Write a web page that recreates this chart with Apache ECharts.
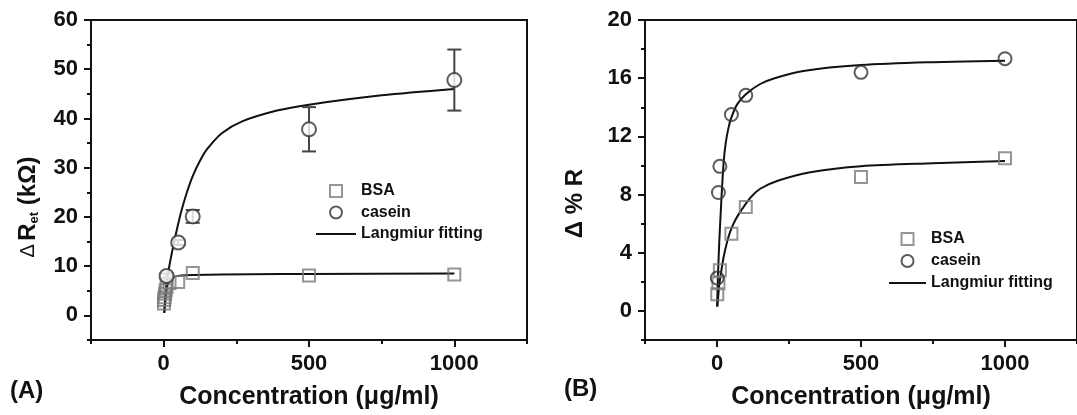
<!DOCTYPE html>
<html>
<head>
<meta charset="utf-8">
<script src="https://cdn.jsdelivr.net/npm/echarts@6/dist/echarts.min.js"></script>
<style>
  html, body { margin: 0; padding: 0; background: #fff; }
  #chart { width: 1077px; height: 415px; }
</style>
</head>
<body>
<div id="chart"></div>
<script>
// ---- panel A : delta R_et (kOhm) ----
var bsaConcA = [1, 2, 3, 5, 7, 10, 20, 50, 100, 500, 1000];
var bsaValA = [2.4, 3.1, 3.7, 4.4, 5.1, 5.8, 6.6, 6.8, 8.6, 8.1, 8.3];
var caseinConcA = [10, 50, 100, 500, 1000];
var caseinValA = [8.0, 14.8, 20.1, 37.8, 47.8];
var caseinLowA = [7.5, 14.3, 18.8, 33.3, 41.6];
var caseinHighA = [8.5, 15.3, 21.4, 42.3, 54.0];
// fitted curves
var fitBsaConcA = [2, 5, 8, 13, 20, 35, 60, 100, 300, 500, 1000];
var fitBsaValA = [0.5, 2.5, 4.3, 6.1, 7.1, 7.8, 8.1, 8.2, 8.35, 8.4, 8.5];
var fitCaseinConcA = [2, 5, 10, 20, 30, 40, 50, 60, 80, 100, 125, 150, 200, 270, 390, 500, 750, 1000];
var fitCaseinValA = [0.5, 3.3, 6.6, 10.2, 13.2, 16.0, 18.6, 21.0, 25.0, 28.3, 31.4, 33.8, 37.0, 39.4, 41.6, 42.8, 44.7, 46.0];

// ---- panel B : delta % R ----
var bsaConcB = [1, 5, 10, 50, 100, 500, 1000];
var bsaValB = [1.15, 1.9, 2.8, 5.3, 7.15, 9.2, 10.5];
var caseinConcB = [1, 5, 10, 50, 100, 500, 1000];
var caseinValB = [2.26, 8.14, 9.94, 13.5, 14.82, 16.4, 17.34];
var fitBsaConcB = [1, 3.4, 8, 17, 25, 40, 55, 74, 117, 150, 211, 329, 500, 750, 1000];
var fitBsaValB = [0.3, 0.8, 1.8, 3.0, 3.9, 5.1, 5.9, 6.6, 7.8, 8.4, 8.95, 9.55, 9.95, 10.15, 10.3];
var fitCaseinConcB = [0.5, 3, 8, 12, 17, 23, 30, 40, 50, 70, 100, 150, 200, 300, 500, 750, 1000];
var fitCaseinValB = [0.3, 2.2, 4.8, 6.4, 8.3, 10.2, 11.5, 12.6, 13.3, 14.2, 14.9, 15.6, 16.0, 16.5, 16.9, 17.1, 17.2];

// axis ticks
var xMajor = [0, 500, 1000];
var xMinor = [-250, 250, 750, 1250];
var yMajorA = [0, 10, 20, 30, 40, 50, 60];
var yMinorA = [-5, 5, 15, 25, 35, 45, 55];
var yMajorB = [0, 4, 8, 12, 16, 20];
var yMinorB = [-2, 2, 6, 10, 14, 18];

var legendNames = ['BSA', 'casein', 'Langmiur fitting'];

var FONT = '"Liberation Sans", Arial, sans-serif';
var INK = '#111';

function pairs(xs, ys) {
  return xs.map(function (x, i) { return [x, ys[i]]; });
}
function triples(xs, a, b) {
  return xs.map(function (x, i) { return [x, a[i], b[i]]; });
}

function mainAxis(grid, min, max, interval, majors, extra) {
  var ax = {
    type: 'value', gridIndex: grid, min: min, max: max, interval: interval,
    splitLine: { show: false },
    axisLine: { show: true, onZero: false, lineStyle: { color: INK, width: 2 } },
    axisTick: { show: true, inside: false, length: 7, customValues: majors, lineStyle: { color: INK, width: 2 } },
    axisLabel: {
      customValues: majors, margin: 13, color: INK, fontSize: 22, fontWeight: 'bold', fontFamily: FONT,
      formatter: function (v) { return String(v); }
    }
  };
  return Object.assign(ax, extra || {});
}
function minorAxis(grid, min, max, interval, minors, pos) {
  return {
    type: 'value', gridIndex: grid, min: min, max: max, interval: interval, position: pos,
    splitLine: { show: false },
    axisLine: { show: false, onZero: false },
    axisTick: { show: true, inside: false, length: 4, customValues: minors, lineStyle: { color: INK, width: 2 } },
    axisLabel: { show: false }
  };
}

function xName() {
  return {
    name: 'Concentration (μg/ml)', nameLocation: 'middle', nameGap: 45,
    nameTextStyle: { color: INK, fontSize: 25, fontWeight: 'bold', fontFamily: FONT }
  };
}

function renderErr(params, api) {
  var x = api.value(0);
  var lo = api.coord([x, api.value(1)]);
  var hi = api.coord([x, api.value(2)]);
  var w = 7;
  var st = { stroke: '#444', lineWidth: 2 };
  return {
    type: 'group',
    children: [
      { type: 'line', shape: { x1: lo[0], y1: lo[1], x2: hi[0], y2: hi[1] }, style: st },
      { type: 'line', shape: { x1: lo[0] - w, y1: lo[1], x2: lo[0] + w, y2: lo[1] }, style: st },
      { type: 'line', shape: { x1: hi[0] - w, y1: hi[1], x2: hi[0] + w, y2: hi[1] }, style: st }
    ]
  };
}

var squareStyle = { color: 'rgba(0,0,0,0)', borderColor: '#7a7a7a', borderWidth: 2 };
var fitLine = { color: INK, width: 2 };

function fitSeries(xi, yi, data) {
  return {
    name: 'Langmiur fitting', type: 'line', xAxisIndex: xi, yAxisIndex: yi,
    data: data, smooth: 0.3, symbol: 'none', showSymbol: false,
    lineStyle: fitLine, itemStyle: { color: INK }, z: 2
  };
}

var legendText = { color: INK, fontSize: 16, fontWeight: 'bold', fontFamily: FONT, lineHeight: 16 };
function legendData() {
  return [
    { name: legendNames[0], icon: 'path://M0,0H10V10H0Z' },
    { name: legendNames[1] },
    { name: legendNames[2], itemStyle: { opacity: 0 } }
  ];
}

var chart = echarts.init(document.getElementById('chart'));
chart.setOption({
  animation: false,
  backgroundColor: '#fff',
  grid: [
    { left: 91, top: 20, width: 436, height: 325, show: true, borderColor: INK, borderWidth: 2 },
    { left: 645, top: 20, width: 440, height: 325, show: true, borderColor: INK, borderWidth: 2 }
  ],
  xAxis: [
    mainAxis(0, -250, 1250, 250, xMajor, xName()),
    minorAxis(0, -250, 1250, 250, xMinor, 'bottom'),
    mainAxis(1, -250, 1250, 250, xMajor, xName()),
    minorAxis(1, -250, 1250, 250, xMinor, 'bottom')
  ],
  yAxis: [
    mainAxis(0, -5, 60, 5, yMajorA, {
      name: '{d|Δ} {b|R}{s|et}{b| (kΩ)}', nameLocation: 'middle', nameRotate: 90, nameGap: 50,
      nameTextStyle: {
        color: INK, fontFamily: FONT, padding: [0, 54, 0, 0],
        rich: {
          d: { fontSize: 20, fontWeight: 'normal', fontFamily: FONT, color: INK, lineHeight: 26 },
          b: { fontSize: 24, fontWeight: 'bold', fontFamily: FONT, color: INK, lineHeight: 26 },
          s: { fontSize: 13, fontWeight: 'bold', fontFamily: FONT, color: INK, lineHeight: 13, verticalAlign: 'bottom' }
        }
      }
    }),
    minorAxis(0, -5, 60, 5, yMinorA, 'left'),
    mainAxis(1, -2, 20, 2, yMajorB, {
      name: 'Δ % R', nameLocation: 'middle', nameRotate: 90, nameGap: 58,
      nameTextStyle: { color: INK, fontSize: 24, fontWeight: 'bold', fontFamily: FONT, padding: [0, 47, 0, 0] }
    }),
    minorAxis(1, -2, 20, 2, yMinorB, 'left')
  ],
  legend: [
    {
      orient: 'vertical', left: 315, top: 183, padding: 0, itemWidth: 40, itemHeight: 12, itemGap: 5.5,
      selectedMode: false, data: legendData(), textStyle: legendText
    },
    {
      orient: 'vertical', left: 888, top: 231, padding: 0, itemWidth: 37, itemHeight: 12, itemGap: 6,
      selectedMode: false, data: legendData(), textStyle: legendText
    }
  ],
  graphic: [
    { type: 'text', left: 10, top: 379, style: { text: '(A)', fill: INK, font: 'bold 24px ' + FONT } },
    { type: 'text', left: 564, top: 377, style: { text: '(B)', fill: INK, font: 'bold 24px ' + FONT } }
  ],
  series: [
    fitSeries(0, 0, pairs(fitBsaConcA, fitBsaValA)),
    fitSeries(0, 0, pairs(fitCaseinConcA, fitCaseinValA)),
    {
      name: 'BSA', type: 'scatter', xAxisIndex: 0, yAxisIndex: 0, symbol: 'rect', symbolSize: 12,
      data: pairs(bsaConcA, bsaValA), itemStyle: squareStyle, z: 3
    },
    {
      name: 'casein-err', type: 'custom', xAxisIndex: 0, yAxisIndex: 0,
      renderItem: renderErr, encode: { x: 0, y: [1, 2] },
      data: triples(caseinConcA, caseinLowA, caseinHighA), z: 3
    },
    {
      name: 'casein', type: 'scatter', xAxisIndex: 0, yAxisIndex: 0, symbol: 'circle', symbolSize: 14,
      data: pairs(caseinConcA, caseinValA), itemStyle: { color: '#fff', borderColor: '#333', borderWidth: 2 }, z: 4
    },
    fitSeries(2, 2, pairs(fitBsaConcB, fitBsaValB)),
    fitSeries(2, 2, pairs(fitCaseinConcB, fitCaseinValB)),
    {
      name: 'BSA', type: 'scatter', xAxisIndex: 2, yAxisIndex: 2, symbol: 'rect', symbolSize: 12,
      data: pairs(bsaConcB, bsaValB), itemStyle: squareStyle, z: 3
    },
    {
      name: 'casein', type: 'scatter', xAxisIndex: 2, yAxisIndex: 2, symbol: 'circle', symbolSize: 13,
      data: pairs(caseinConcB, caseinValB), itemStyle: { color: 'rgba(255,255,255,0)', borderColor: '#333', borderWidth: 2 }, z: 4
    }
  ]
});
</script>
</body>
</html>
